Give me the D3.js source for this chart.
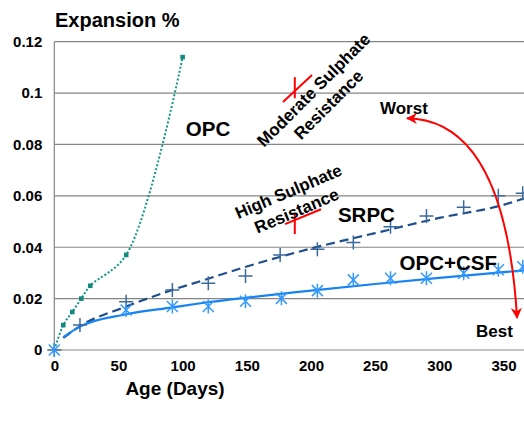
<!DOCTYPE html>
<html lang="en">
<head>
<meta charset="utf-8">
<title>Expansion vs age</title>
<script src="https://d3js.org/d3.v7.min.js"></script>
<style>
  body { margin: 0; background: #fff; }
  svg text { font-family: "Liberation Sans", Arial, sans-serif; font-weight: bold; fill: #000; }
</style>
</head>
<body>
<script>
var opcDays = [0, 7, 14, 21, 28, 56, 100];
var opcValues = [0, 0.0097, 0.0148, 0.02, 0.025, 0.037, 0.114];

var srpcDays = [0, 20, 56, 92, 120, 149, 176, 205, 233, 262, 290, 319, 346, 365];
var srpcValues = [0, 0.0097, 0.0188, 0.0234, 0.026, 0.0288, 0.037, 0.0392, 0.0418, 0.048, 0.0522, 0.0556, 0.060, 0.061];

var csfDays = [0, 56, 92, 120, 149, 177, 205, 233, 262, 290, 319, 346, 365];
var csfValues = [0, 0.0156, 0.0169, 0.0169, 0.019, 0.0201, 0.0231, 0.0273, 0.0279, 0.0279, 0.0299, 0.0312, 0.0324];

// trend lines
var trendDays = [7, 20, 56, 92, 114, 150, 200, 250, 300, 350, 366];
var srpcTrend = [0.0047, 0.0093, 0.0169, 0.0234, 0.0268, 0.0325, 0.0395, 0.0455, 0.0514, 0.0565, 0.059];
var csfTrend = [0.005, 0.0091, 0.0139, 0.0166, 0.0182, 0.0204, 0.0231, 0.0257, 0.0281, 0.0303, 0.031];

// spec limit marks (vertical tick + slanted stroke), in data units
var limitDay = [187.4, 187.4];
var limitLow = [0.098, 0.0451];
var limitHigh = [0.1062, 0.0533];
var slantFrom = [[178.2, 0.0965], [179.8, 0.049]];
var slantTo = [[200.8, 0.107], [207.8, 0.0548]];

var xTicks = [0, 50, 100, 150, 200, 250, 300, 350];
var xTickLabels = ["0", "50", "100", "150", "200", "250", "300", "350"];
var yTicks = [0, 0.02, 0.04, 0.06, 0.08, 0.1, 0.12];
var yTickLabels = ["0", "0.02", "0.04", "0.06", "0.08", "0.1", "0.12"];

var width = 524, height = 425;

var svg = d3.select("body").append("svg")
    .attr("width", width)
    .attr("height", height);

svg.append("rect").attr("width", width).attr("height", height).attr("fill", "#fff");

var x = d3.scaleLinear().domain([0, 366]).range([54.3, 524]);
var y = d3.scaleLinear().domain([0, 0.12]).range([350, 41.7]);

// grid
svg.append("g")
  .selectAll("line")
  .data(yTicks)
  .join("line")
    .attr("x1", x(0)).attr("x2", width)
    .attr("y1", d => y(d)).attr("y2", d => y(d))
    .attr("stroke", "#858585")
    .attr("stroke-width", 1.2);

svg.append("line")
    .attr("x1", x(0)).attr("x2", x(0))
    .attr("y1", y(0.12)).attr("y2", y(0))
    .attr("stroke", "#858585")
    .attr("stroke-width", 1.2);

// axes
var yAxis = svg.append("g")
    .attr("transform", "translate(" + x(0) + ",0)")
    .call(d3.axisLeft(y).tickValues(yTicks).tickSize(0).tickPadding(12)
      .tickFormat((d, i) => yTickLabels[i]));
yAxis.select(".domain").remove();
yAxis.selectAll("text").attr("font-size", 15).style("font-family", null);

var xAxis = svg.append("g")
    .attr("transform", "translate(0," + y(0) + ")")
    .call(d3.axisBottom(x).tickValues(xTicks).tickSize(0).tickPadding(10)
      .tickFormat((d, i) => xTickLabels[i]));
xAxis.select(".domain").remove();
xAxis.selectAll("text").attr("font-size", 15).style("font-family", null);

svg.append("text")
    .attr("x", 55).attr("y", 27)
    .attr("font-size", 20)
    .text("Expansion %");

svg.append("text")
    .attr("x", 175).attr("y", 395)
    .attr("text-anchor", "middle")
    .attr("font-size", 19)
    .text("Age (Days)");

// lines
var line = d3.line().x(d => x(d[0])).y(d => y(d[1]));

svg.append("path")
    .datum(opcDays.map((d, i) => [d, opcValues[i]]))
    .attr("fill", "none")
    .attr("stroke", "#159488")
    .attr("stroke-width", 2)
    .attr("stroke-dasharray", "2,2")
    .attr("d", line.curve(d3.curveCatmullRom.alpha(0.5)));

svg.append("path")
    .datum(trendDays.map((d, i) => [d, srpcTrend[i]]))
    .attr("fill", "none")
    .attr("stroke", "#1f4e8c")
    .attr("stroke-width", 2.2)
    .attr("stroke-dasharray", "9,5")
    .attr("d", line.curve(d3.curveMonotoneX));

svg.append("path")
    .datum(trendDays.map((d, i) => [d, csfTrend[i]]))
    .attr("fill", "none")
    .attr("stroke", "#1783f2")
    .attr("stroke-width", 2.2)
    .attr("d", line.curve(d3.curveMonotoneX));

// markers
svg.append("g")
  .selectAll("rect")
  .data(opcDays.map((d, i) => [d, opcValues[i]]).slice(1))
  .join("rect")
    .attr("x", d => x(d[0]) - 2.3).attr("y", d => y(d[1]) - 2.3)
    .attr("width", 4.6).attr("height", 4.6)
    .attr("fill", "#128a7e");

svg.append("g")
  .selectAll("path")
  .data(srpcDays.map((d, i) => [d, srpcValues[i]]))
  .join("path")
    .attr("transform", d => "translate(" + x(d[0]) + "," + y(d[1]) + ")")
    .attr("d", "M-7,0H7M0,-7V7")
    .attr("stroke", "#3b6a9e")
    .attr("stroke-width", 1.5)
    .attr("fill", "none");

svg.append("g")
  .selectAll("path")
  .data(csfDays.map((d, i) => [d, csfValues[i]]))
  .join("path")
    .attr("transform", d => "translate(" + x(d[0]) + "," + y(d[1]) + ")")
    .attr("d", "M-5.5,-5.5L5.5,5.5M-5.5,5.5L5.5,-5.5M0,-7V7")
    .attr("stroke", "#3399ff")
    .attr("stroke-width", 1.5)
    .attr("fill", "none");

// spec limit marks
var marks = svg.append("g").attr("stroke", "#ff0000").attr("stroke-width", 2);
limitDay.forEach(function(d, i) {
  marks.append("line")
      .attr("x1", x(d)).attr("x2", x(d))
      .attr("y1", y(limitHigh[i])).attr("y2", y(limitLow[i]));
  marks.append("line")
      .attr("x1", x(slantFrom[i][0])).attr("y1", y(slantFrom[i][1]))
      .attr("x2", x(slantTo[i][0])).attr("y2", y(slantTo[i][1]));
});

// series labels
svg.append("text").attr("x", x(102.5)).attr("y", y(0.0832)).attr("font-size", 20.5).text("OPC");
svg.append("text").attr("x", x(221)).attr("y", y(0.0499)).attr("font-size", 20.5).text("SRPC");
svg.append("text").attr("x", x(269)).attr("y", y(0.0312)).attr("font-size", 20.5).text("OPC+CSF");

var mod = svg.append("text")
    .attr("font-size", 17)
    .attr("text-anchor", "middle")
    .attr("transform", "translate(" + x(207.8) + "," + y(0.0984) + ") rotate(-45)");
mod.append("tspan").attr("x", 0).attr("y", -4.5).text("Moderate Sulphate");
mod.append("tspan").attr("x", 0).attr("y", 16.5).text("Resistance");

var high = svg.append("text")
    .attr("font-size", 17)
    .attr("text-anchor", "middle")
    .attr("transform", "translate(" + x(185.6) + "," + y(0.0580) + ") rotate(-23)");
high.append("tspan").attr("x", 0).attr("y", -4.5).text("High Sulphate");
high.append("tspan").attr("x", 0).attr("y", 16.5).text("Resistance");

// worst / best arrow
svg.append("text").attr("x", x(253.8)).attr("y", y(0.0918)).attr("font-size", 17).text("Worst");
svg.append("text").attr("x", x(328.6)).attr("y", y(0.0051)).attr("font-size", 17).text("Best");

var defs = svg.append("defs");
defs.append("marker")
    .attr("id", "head")
    .attr("viewBox", "0 0 10 10")
    .attr("refX", 9).attr("refY", 5)
    .attr("markerWidth", 5.5).attr("markerHeight", 5.5)
    .attr("orient", "auto-start-reverse")
    .append("path")
    .attr("d", "M0,0L10,5L0,10L3,5Z")
    .attr("fill", "#ff0000");

var p0 = [x(274.9), y(0.0902)], pc = [x(351.2), y(0.0895)], p1 = [x(360.6), y(0.0125)];
svg.append("path")
    .attr("d", "M" + p0 + "Q" + pc + " " + p1)
    .attr("fill", "none")
    .attr("stroke", "#ff0000")
    .attr("stroke-width", 2)
    .attr("marker-start", "url(#head)")
    .attr("marker-end", "url(#head)");
</script>
</body>
</html>
